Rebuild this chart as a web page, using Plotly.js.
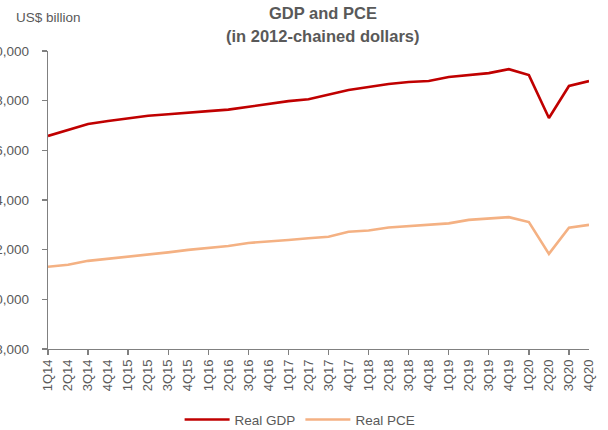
<!DOCTYPE html>
<html>
<head>
<meta charset="utf-8">
<script src="https://cdn.plot.ly/plotly-3.0.1.min.js"></script>
<style>html,body{margin:0;padding:0;background:#fff;}#chart{width:608px;height:430px;}</style>
</head>
<body>
<div id="chart"></div>
<script>
const quarters = ["1Q14","2Q14","3Q14","4Q14","1Q15","2Q15","3Q15","4Q15","1Q16","2Q16","3Q16","4Q16","1Q17","2Q17","3Q17","4Q17","1Q18","2Q18","3Q18","4Q18","1Q19","2Q19","3Q19","4Q19","1Q20","2Q20","3Q20","4Q20"];
const realGDP = [16580,16810,17060,17180,17300,17390,17450,17500,17580,17640,17760,17860,17980,18060,18260,18430,18550,18670,18750,18790,18950,19030,19110,19270,19030,17300,18590,18790];
const realPCE = [11310,11390,11550,11630,11710,11800,11890,11990,12070,12150,12270,12320,12390,12460,12520,12720,12770,12890,12940,12990,13060,13200,13270,13310,13110,11830,12880,13000];
const yTicks = [8000,10000,12000,14000,16000,18000,20000];
const tickQuarters = quarters.filter((q,i)=>i%2===0);

const grey = "#595959";
const fam = "Liberation Sans, Arial, sans-serif";

const traces = [
  {x:quarters, y:realGDP, name:"Real GDP", type:"scatter", mode:"lines",
   line:{color:"#C00000", width:2.6}},
  {x:quarters, y:realPCE, name:"Real PCE", type:"scatter", mode:"lines",
   line:{color:"#F4B183", width:2.6}},
  {x:quarters, y:quarters.map(()=>null), xaxis:"x2", showlegend:false, hoverinfo:"skip", mode:"lines"}
];

const layout = {
  width:608, height:430,
  margin:{l:48, r:19, t:51, b:81},
  paper_bgcolor:"#fff", plot_bgcolor:"#fff",
  font:{family:fam, color:grey, size:13},
  showlegend:true,
  xaxis:{type:"category", categoryarray:quarters, range:[0,27], showgrid:false, zeroline:false, automargin:false,
         showline:true, linecolor:"#808080", linewidth:1.3, ticks:"", tickangle:-90,
         tickfont:{size:13, color:grey}, ticklabelstandoff:4},
  xaxis2:{type:"category", categoryarray:quarters, range:[0,27], overlaying:"x", anchor:"y", side:"bottom",
          automargin:false, showgrid:false, zeroline:false, showline:false, ticks:"outside", ticklen:5, tickwidth:1.3,
          tickcolor:"#808080", tickvals:tickQuarters, showticklabels:false},
  yaxis:{range:[8000,20000], tickvals:yTicks, tickformat:",d", showgrid:false, zeroline:false, automargin:false,
         showline:true, linecolor:"#808080", linewidth:1.3, ticks:"outside", ticklen:5, tickwidth:1.3,
         tickcolor:"#808080", tickfont:{size:13.5, color:grey}, ticklabelstandoff:10},
  legend:{orientation:"h", x:0.466, xanchor:"center", yref:"container", y:0.024, yanchor:"middle",
          font:{size:13.5, color:grey}, itemwidth:45, traceorder:"normal"},
  annotations:[
    {text:"US$ billion", xref:"paper", yref:"paper", x:-0.063, y:1.114, xanchor:"left", yanchor:"middle",
     showarrow:false, font:{size:13.5, color:grey}},
    {text:"<b>GDP and PCE</b>", xref:"paper", yref:"paper", x:0.508, y:1.126, xanchor:"center", yanchor:"middle",
     showarrow:false, font:{family:fam, size:16.5, color:grey}},
    {text:"<b>(in 2012-chained dollars)</b>", xref:"paper", yref:"paper", x:0.508, y:1.05, xanchor:"center", yanchor:"middle",
     showarrow:false, font:{family:fam, size:16.5, color:grey}}
  ]
};

Plotly.newPlot("chart", traces, layout, {displayModeBar:false, staticPlot:true});
</script>
</body>
</html>
